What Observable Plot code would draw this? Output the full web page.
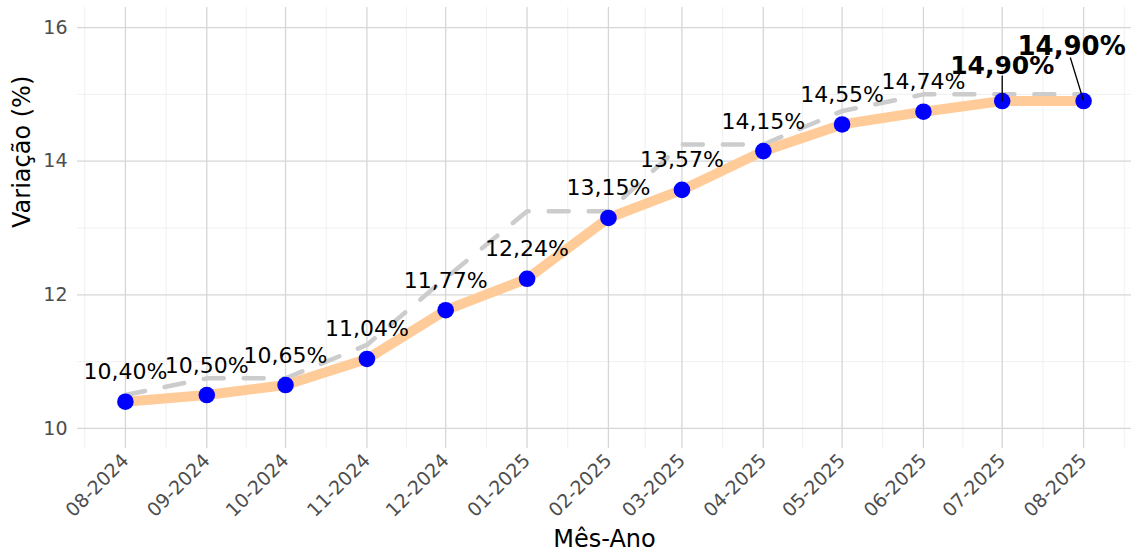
<!DOCTYPE html>
<html><head><meta charset="utf-8">
<script src="https://cdn.jsdelivr.net/npm/d3@7"></script>
<script src="https://cdn.jsdelivr.net/npm/@observablehq/plot@0.6"></script>
<style>body{margin:0;background:#fff;} svg{display:block;}</style>
</head><body><div id="chart"></div>
<script>
const meses = ["08-2024","09-2024","10-2024","11-2024","12-2024","01-2025","02-2025","03-2025","04-2025","05-2025","06-2025","07-2025","08-2025"];
const variacao = [10.40,10.50,10.65,11.04,11.77,12.24,13.15,13.57,14.15,14.55,14.74,14.90,14.90];
const selic = [10.50,10.75,10.75,11.25,12.25,13.25,13.25,14.25,14.25,14.75,15.00,15.00,15.00];
const destaque = ["07-2025","08-2025"];
const yTicks = [10,12,14,16];
const yMinor = [11,13,15];
const yLimits = [10,16];

const parse = d3.utcParse("%m-%Y");
const fmt = v => v.toFixed(2).replace(".", ",") + "%";
const data = meses.map((m,i)=>({mes:m, date:parse(m), v:variacao[i], s:selic[i]}));
const dates = data.map(d=>d.date);
const n = dates.length;
const span = dates[n-1]-dates[0];
const xDomain = [new Date(+dates[0]-span*0.05), new Date(+dates[n-1]+span*0.05)];
const yr = yLimits[1]-yLimits[0];
const yDomain = [yLimits[0]-yr*0.05, yLimits[1]+yr*0.05];
const step = dates[1]-dates[0];
const ext = [new Date(+dates[0]-step), ...dates, new Date(+dates[n-1]+step)];
const xMinor = d3.pairs(ext).map(([a,b])=>new Date((+a + +b)/2));

const normal = data.filter(d=>!destaque.includes(d.mes));
const hl1 = data.filter(d=>d.mes===destaque[0]);
const hl2 = data.filter(d=>d.mes===destaque[1]);
const leader = {draw(ctx,l){ctx.moveTo(0,0); ctx.lineTo(0,-l);}};

const chart = Plot.plot({
  width:1135, height:553,
  marginLeft:77, marginRight:4, marginTop:7, marginBottom:105,
  x:{type:"utc", domain:xDomain},
  y:{domain:yDomain},
  style:{fontFamily:"'DejaVu Sans', sans-serif", background:"#fff", overflow:"visible"},
  marks:[
    Plot.gridX(xMinor,{stroke:"#ececec", strokeOpacity:1, strokeWidth:0.8}),
    Plot.gridY(yMinor,{stroke:"#ececec", strokeOpacity:1, strokeWidth:0.8}),
    Plot.gridX(dates,{stroke:"#d6d6d6", strokeOpacity:1, strokeWidth:1.3}),
    Plot.gridY(yTicks,{stroke:"#d6d6d6", strokeOpacity:1, strokeWidth:1.3}),
    Plot.axisX(dates,{tickFormat:d3.utcFormat("%m-%Y"), tickRotate:-45, tickSize:0, tickPadding:9, fontSize:19, fill:"#4d4d4d", label:null}),
    Plot.axisY(yTicks,{tickFormat:d=>String(d), tickSize:0, tickPadding:10, fontSize:19, fill:"#4d4d4d", label:null}),
    Plot.line(data,{x:"date", y:"s", stroke:"#cccccc", strokeWidth:4.5, strokeDasharray:"20,20"}),
    Plot.line(data,{x:"date", y:"v", stroke:"#ffcc99", strokeWidth:10}),
    Plot.dot(data,{x:"date", y:"v", r:8.3, fill:"#0000ff"}),
    Plot.vector(hl1,{x:"date", y:"v", length:25, rotate:0, anchor:"start", shape:leader, stroke:"black", strokeWidth:1.3}),
    Plot.vector(hl2,{x:"date", y:"v", length:45, rotate:-17, anchor:"start", shape:leader, stroke:"black", strokeWidth:1.3}),
    Plot.text(normal,{x:"date", y:"v", text:d=>fmt(d.v), dy:-22.5, lineAnchor:"bottom", fontSize:22, fill:"black"}),
    Plot.text(hl1,{x:"date", y:"v", text:d=>fmt(d.v), dy:-27, lineAnchor:"bottom", fontSize:25, fontWeight:"bold", fill:"black"}),
    Plot.text(hl2,{x:"date", y:"v", text:d=>fmt(d.v), dx:-12, dy:-46, lineAnchor:"bottom", fontSize:26, fontWeight:"bold", fill:"black"}),
    Plot.text(["Mês-Ano"],{frameAnchor:"bottom", text:d=>d, dy:98, lineAnchor:"bottom", fontSize:24, fill:"black"}),
    Plot.text(["Variação (%)"],{frameAnchor:"left", text:d=>d, dx:-55, rotate:-90, lineAnchor:"middle", fontSize:24, fill:"black"})
  ]
});
document.getElementById("chart").appendChild(chart);
</script>
</body></html>
